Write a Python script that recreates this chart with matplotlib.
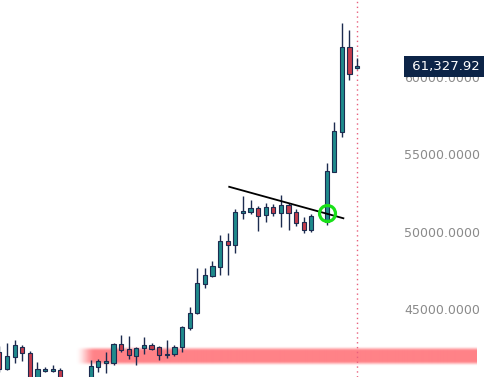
import numpy as np
import matplotlib
matplotlib.use("Agg")
import matplotlib.pyplot as plt

# ---- data (daily candles) ----
idx = [0, 1, 2, 3, 4, 5, 6, 7, 8, 9, 10, 11, 12, 13, 14, 15, 16, 17, 18, 19, 20, 21, 22, 23,
       24, 25, 26, 27, 28, 29, 30, 31, 32, 33, 34, 35, 36, 37, 38, 39, 40, 41, 43, 44, 45, 46, 47]
opens = [42742, 41645, 42419, 43065, 42677, 40613, 41516, 41516, 41581, 40300, 39700, 40000,
         40613, 41774, 42032, 42032, 43258, 42935, 42484, 43000, 43194, 43065, 42548, 42613,
         43065, 44290, 45258, 47129, 47645, 48226, 49903, 49645, 51710, 51774, 52032, 51581,
         52097, 51710, 52226, 51774, 51129, 50613, 51129, 54355, 56935, 62419, 61060]
highs = [43129, 43323, 43516, 43194, 42806, 42097, 41774, 41903, 41710, 40800, 40500, 41000,
         42226, 42290, 42742, 43323, 43839, 43774, 43065, 43710, 43323, 43129, 43516, 43194,
         44419, 45645, 48161, 48161, 48613, 50290, 50419, 51968, 52806, 52548, 52161, 52355,
         52290, 52871, 52355, 51968, 51452, 51645, 54935, 57581, 63968, 63516, 61710]
lows = [41452, 41581, 42032, 42161, 40290, 40290, 41452, 41452, 39968, 39400, 39300, 39800,
        40290, 41452, 41387, 41903, 42742, 42290, 41903, 42613, 42871, 42226, 42355, 42484,
        42742, 44161, 45194, 46871, 47581, 47710, 47710, 49129, 51323, 51645, 50548, 51129,
        51516, 50806, 50613, 50871, 50419, 50484, 50935, 54355, 56613, 60290, 61000]
closes = [41645, 42484, 43194, 42677, 40613, 41645, 41645, 41645, 40290, 39700, 40000, 40600,
          41839, 42161, 42161, 43258, 42871, 42548, 43000, 43194, 42935, 42548, 42613, 43065,
          44355, 45258, 47194, 47710, 48290, 49903, 49645, 51774, 51839, 52032, 51516, 52097,
          51710, 52226, 51710, 51065, 50613, 51516, 54419, 57000, 62419, 60677, 61190]

tick_values = [45000, 50000, 55000, 60000]
tick_labels = ["45000.0000", "50000.0000", "55000.0000", "60000.0000"]
last_price_label = "61,327.92"

trend_x = [30.2, 45.2]
trend_y = [53400, 51370]
circle_x = [43.1]
circle_y = [51690]
band_price = 42480
band_x = [10.0, 62.8]

# ---- style ----
UP = "#1f8a8c"
DOWN = "#c43c4c"
EDGE = "#1c2b4f"

fig = plt.figure(figsize=(4.84, 3.77), dpi=100)
ax = fig.add_axes([0, 0, 1, 1])
ax.set_xlim(0.08, 63.68)
ax.set_ylim(41129, 65452)
ax.axis("off")


def smooth(t):
    t = np.clip(t, 0, 1)
    return t * t * (3 - 2 * t)


# support band (soft red, blurred edges)
ny, nx = 80, 500
yy = np.linspace(-1, 1, ny)[:, None]
xx = np.linspace(0, 1, nx)[None, :]
prof_y = smooth((1 - np.abs(yy)) / 0.5)
prof_x = smooth(xx / 0.05)
alpha = 0.82 * prof_y * prof_x
img = np.zeros((ny, nx, 4))
img[..., 0] = 1.0
img[..., 1] = 0.40
img[..., 2] = 0.43
img[..., 3] = alpha
ax.imshow(img, extent=[band_x[0], band_x[1], band_price - 620, band_price + 620],
          aspect="auto", zorder=1, interpolation="bilinear")

# wicks
ax.vlines(idx, lows, highs, color=EDGE, lw=1.0, zorder=2)
# bodies
o = np.array(opens, float)
c = np.array(closes, float)
bottoms = np.minimum(o, c)
heights = np.maximum(np.abs(c - o), 90)
colors = [UP if cc >= oo else DOWN for oo, cc in zip(o, c)]
ax.bar(idx, heights, bottom=bottoms, width=0.55, color=colors, edgecolor=EDGE,
       linewidth=0.8, zorder=3)

# trendline
ax.plot(trend_x, trend_y, color="black", lw=1.3, zorder=4)
# green circle
ax.plot(circle_x, circle_y, marker="o", ms=11.5, mfc="none", mec="#19e019", mew=2.3,
        zorder=5, ls="none")

# crosshair dotted vertical
ax.axvline(idx[-1], color="#e8607c", ls=(0, (1, 2.5)), lw=1.0, zorder=1)

# price labels on right
for v, lab in zip(tick_values, tick_labels):
    ax.annotate(lab, xy=(1, v), xycoords=("axes fraction", "data"),
                xytext=(-3, 4.5), textcoords="offset points", ha="right", va="center",
                fontsize=9, color="#8a8a8a", family="DejaVu Sans", zorder=6)

ax.annotate(" " + last_price_label, xy=(1, closes[-1]), xycoords=("axes fraction", "data"),
            xytext=(-3, 0), textcoords="offset points", ha="right", va="center",
            fontsize=9.5, color="white", family="DejaVu Sans", zorder=8,
            bbox=dict(boxstyle="square,pad=0.3", fc="#0c2447", ec="none"))

fig.savefig("out.png", dpi=100)
